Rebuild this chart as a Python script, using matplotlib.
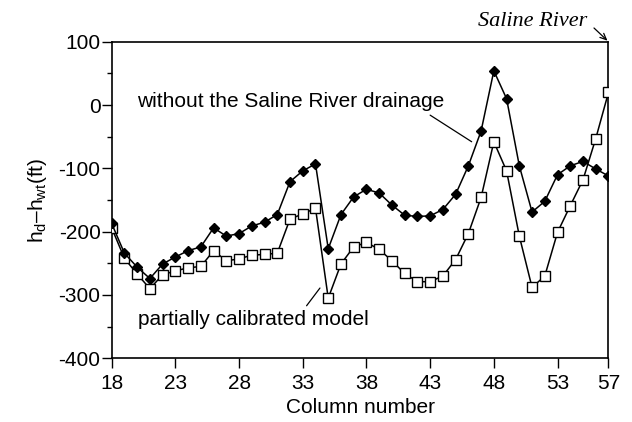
import matplotlib
matplotlib.use("Agg")
import matplotlib.pyplot as plt
import numpy as np

plt.rcParams['font.family'] = ['Liberation Sans', 'DejaVu Sans']
plt.rcParams['mathtext.fontset'] = 'custom'
plt.rcParams['mathtext.rm'] = 'Liberation Sans'
plt.rcParams['mathtext.it'] = 'Liberation Sans'
plt.rcParams['axes.unicode_minus'] = False

columns = list(range(18, 58))
without_drainage = [-187, -234, -256, -274, -251, -240, -230, -224, -194, -207,
                    -203, -191, -185, -173, -121, -104, -93, -227, -173, -145,
                    -133, -139, -158, -174, -176, -175, -165, -141, -96, -41,
                    54, 10, -96, -169, -152, -110, -96, -89, -101, -112]
partially_calibrated = [-194, -242, -267, -290, -268, -262, -257, -255, -230, -246,
                        -243, -237, -236, -234, -180, -172, -163, -305, -251, -224,
                        -217, -228, -246, -266, -279, -279, -270, -244, -203, -146,
                        -58, -104, -207, -288, -270, -201, -159, -118, -53, 20]
xticks = [18, 23, 28, 33, 38, 43, 48, 53, 57]
yticks = [-400, -300, -200, -100, 0, 100]

FS = 15

fig = plt.figure(figsize=(6.32, 4.22), dpi=100)
ax = fig.add_axes([0.1767, 0.1509, 0.9628 - 0.1767, 0.9012 - 0.1509])

ax.plot(columns, partially_calibrated, color='black', lw=1.1, marker='s',
        markersize=6.5, markerfacecolor='white', markeredgecolor='black',
        markeredgewidth=1.0, zorder=3)
ax.plot(columns, without_drainage, color='black', lw=1.1, marker='D',
        markersize=5.4, markerfacecolor='black', markeredgecolor='black', zorder=3)

ax.set_xlim(18, 57)
ax.set_ylim(-400, 100)
ax.set_xticks(xticks)
ax.set_yticks(yticks)
ax.set_yticks(np.arange(-350, 100, 100), minor=True)
ax.tick_params(axis='both', direction='out', labelsize=FS, width=1.0, color='black')
ax.tick_params(axis='y', which='major', length=7.5, pad=0.5)
ax.tick_params(axis='y', which='minor', length=3.8, width=1.0)
ax.tick_params(axis='x', which='major', length=7, pad=4)
for sp in ax.spines.values():
    sp.set_linewidth(1.2)

ax.set_xlabel('Column number', fontsize=FS, labelpad=4)
ax.set_ylabel(r'$\mathregular{h_d – h_{wt}}$(ft)', fontsize=FS, labelpad=7)

ax.text(20.0, 5, 'without the Saline River drainage', fontsize=FS, ha='left', va='center')
ax.annotate('', xy=(46.26, -58), xytext=(43.0, -16),
            arrowprops=dict(arrowstyle='-', color='black', lw=0.9, shrinkA=0, shrinkB=0))
ax.text(20.1, -339, 'partially calibrated model', fontsize=FS, ha='left', va='center')
ax.annotate('', xy=(34.35, -289), xytext=(33.3, -317),
            arrowprops=dict(arrowstyle='-', color='black', lw=0.9, shrinkA=0, shrinkB=0))

fig.text(587 / 632, 1 - 21 / 422, 'Saline River', fontsize=16,
         family=['Liberation Serif'], style='italic', ha='right', va='center')
ax.annotate('', xy=(57, 100), xycoords='data',
            xytext=(594, 422 - 28), textcoords='figure pixels',
            annotation_clip=False,
            arrowprops=dict(arrowstyle='->,head_length=0.45,head_width=0.2',
                            color='black', lw=0.9, shrinkA=0, shrinkB=1))

fig.savefig('out.png', dpi=100)
